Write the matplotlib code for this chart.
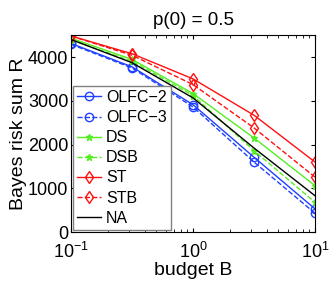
import matplotlib
matplotlib.use('Agg')
import matplotlib.pyplot as plt

plt.rcParams['font.family'] = ['Liberation Sans', 'DejaVu Sans']
plt.rcParams['mathtext.fontset'] = 'custom'
plt.rcParams['mathtext.rm'] = 'Liberation Sans'

budget = [0.1, 0.316, 1.0, 3.16, 10.0]
olfc2 = [4310, 3775, 2910, 1710, 530]
olfc3 = [4290, 3750, 2860, 1600, 430]
ds = [4430, 3945, 3165, 2150, 1060]
dsb = [4390, 3905, 3120, 1860, 680]
st = [4480, 4075, 3500, 2670, 1600]
stb = [4480, 4040, 3370, 2380, 1255]
na = [4400, 3870, 3065, 1920, 830]

blue = '#2040ff'
green = '#55ee22'
red = '#ff1010'

fig = plt.figure(figsize=(3.32, 2.81), dpi=100)
ax = fig.add_axes([0.214, 0.174, 0.735, 0.701])

ax.plot(budget, olfc2, '-o', color=blue, mfc='none', ms=6, lw=1, label='OLFC\u22122')
ax.plot(budget, olfc3, '--o', color=blue, mfc='none', ms=6, lw=1, label='OLFC\u22123')
ax.plot(budget, ds, '-*', color=green, ms=5, lw=1, label='DS')
ax.plot(budget, dsb, '--*', color=green, ms=5, lw=1, label='DSB')
ax.plot(budget, st, '-d', color=red, mfc='none', ms=6, lw=1, label='ST')
ax.plot(budget, stb, '--d', color=red, mfc='none', ms=6, lw=1, label='STB')
ax.plot(budget, na, '-', color='black', lw=1, label='NA')

ax.set_xscale('log')
ax.set_xlim(0.1, 10)
ax.set_ylim(0, 4500)
ax.set_yticks([0, 1000, 2000, 3000, 4000])
ax.tick_params(direction='in', top=True, right=True, labelsize=13, length=3, pad=2)
ax.tick_params(axis='x', pad=7)
ax.tick_params(which='minor', direction='in', top=True, right=True, length=2)

ax.set_title('p(0) = 0.5', fontsize=13.5, pad=7)
ax.set_xlabel('budget B', fontsize=14, labelpad=0)
ax.set_ylabel('Bayes risk sum R', fontsize=14, labelpad=1)

leg = ax.legend(loc='lower left', fontsize=11.5, handlelength=1.5, handletextpad=0.3,
                labelspacing=0.32, borderpad=0.25, borderaxespad=0.15,
                fancybox=False, framealpha=1)
leg.get_frame().set_edgecolor('gray')
leg.get_frame().set_linewidth(1)

fig.savefig('out.png', dpi=100)
